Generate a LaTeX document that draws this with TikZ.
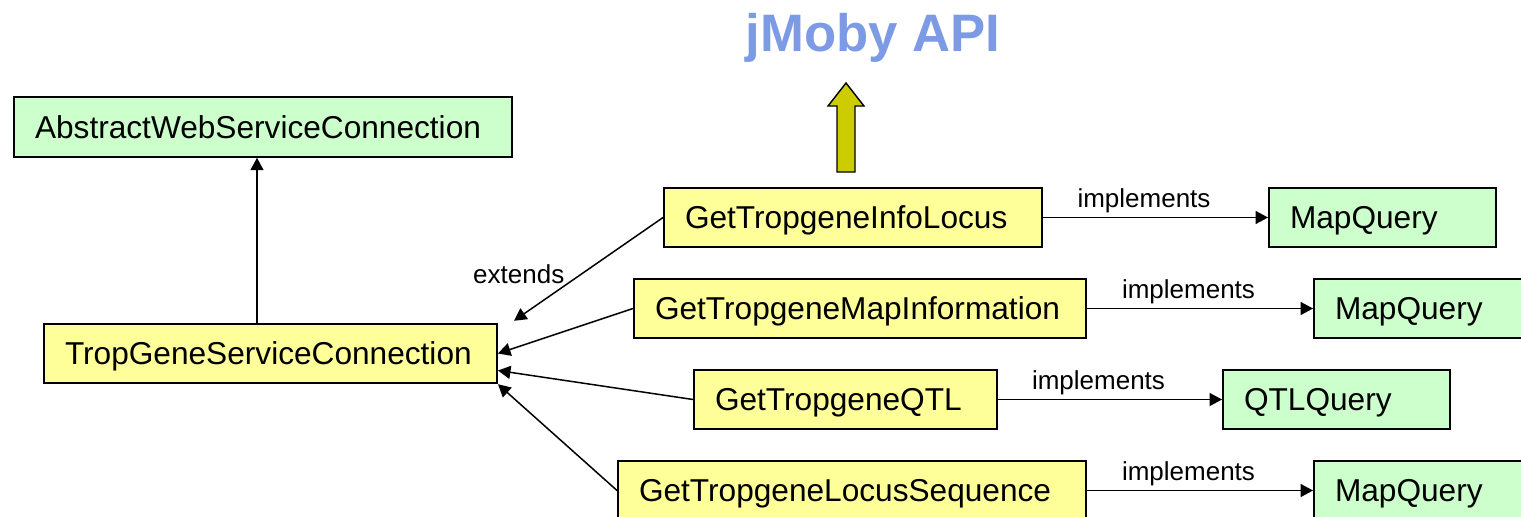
\documentclass[tikz,border=0pt]{standalone}
\usepackage{fontspec}
\setmainfont{Liberation Sans}
\usepackage{tikz}
\usetikzlibrary{arrows.meta, positioning, calc}
\definecolor{implcolor}{RGB}{255,255,153}
\definecolor{ifacecolor}{RGB}{204,255,204}
\definecolor{apicolor}{RGB}{125,155,228}
\definecolor{blockcolor}{RGB}{204,204,0}

\begin{document}
\begin{tikzpicture}[
    cls/.style={draw, line width=1.1pt, inner xsep=0.42cm, minimum height=1.19cm, text height=0.453cm, text depth=0pt, align=left, font=\fontsize{18pt}{21pt}\selectfont},
    impl/.style={cls, fill=implcolor},
    iface/.style={cls, fill=ifacecolor},
    extends/.style={-{Triangle[length=0.25cm, width=0.26cm]}, line width=0.85pt},
    lbl/.style={font=\fontsize{14.8pt}{17pt}\selectfont, inner sep=2pt},
    implbl/.style={lbl, above, xshift=-0.23cm}
]
    \useasboundingbox (0,0) rectangle (30.42,10.32);

    % Title
    \node[font=\bfseries\fontsize{30pt}{34pt}\selectfont, text=apicolor] (api) at (17.46,9.56) {jMoby API};
    \filldraw[fill=blockcolor, line width=0.8pt] (16.74,6.88) -- (16.74,8.2) -- (16.56,8.2) -- (16.92,8.66)
        -- (17.28,8.2) -- (17.1,8.2) -- (17.1,6.88) -- cycle;

    % Classes
    \node[iface, text width=9.12cm] (abs) at (5.26,7.78) {AbstractWebServiceConnection};
    \node[impl, text width=8.22cm] (trop) at (5.41,3.25) {TropGeneServiceConnection};
    \node[impl, text width=6.72cm] (info) at (17.06,5.97) {GetTropgeneInfoLocus};
    \node[impl, text width=8.2cm] (mapinfo) at (17.2,4.15) {GetTropgeneMapInformation};
    \node[impl, text width=5.22cm] (qtl) at (16.91,2.33) {GetTropgeneQTL};
    \node[impl, text width=8.52cm] (locus) at (17.04,0.51) {GetTropgeneLocusSequence};

    % Interfaces
    \node[iface, text width=3.7cm] (mq1) at (27.65,5.97) {MapQuery};
    \node[iface, text width=3.7cm] (mq2) at (28.55,4.15) {MapQuery};
    \node[iface, text width=3.7cm] (qtlq) at (26.73,2.33) {QTLQuery};
    \node[iface, text width=3.7cm] (mq3) at (28.55,0.51) {MapQuery};

    % Inheritance
    \coordinate (up) at (5.14,0);
    \coordinate (e1) at ([xshift=0.32cm, yshift=0.04cm]trop.north east);
    \draw[extends] (trop.north -| up) -- (abs.south -| up);
    \draw[extends] (info.west) -- node[lbl, pos=0.55, left=0.25cm] {extends} (e1);
    \draw[extends] (mapinfo.west) -- (trop.east);
    \draw[extends] (qtl.west) -- ([yshift=-0.34cm]trop.east);
    \draw[extends] (locus.west) -- (trop.south east);

    % Realisation
    \draw[extends] (info) -- node[implbl] {implements} (mq1);
    \draw[extends] (mapinfo) -- node[implbl] {implements} (mq2);
    \draw[extends] (qtl) -- node[implbl] {implements} (qtlq);
    \draw[extends] (locus) -- node[implbl] {implements} (mq3);
\end{tikzpicture}
\end{document}
